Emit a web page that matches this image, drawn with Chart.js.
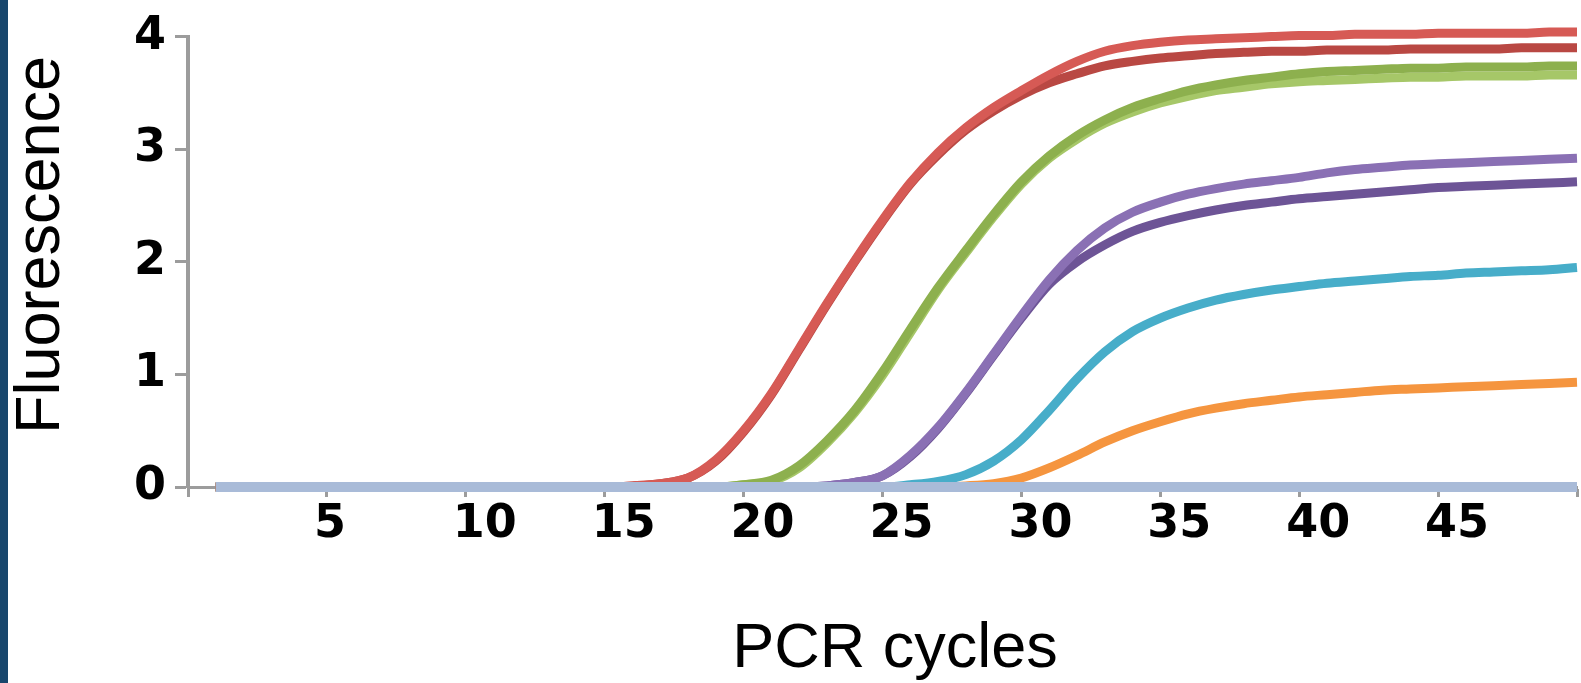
<!DOCTYPE html>
<html>
<head>
<meta charset="utf-8">
<script src="https://cdn.jsdelivr.net/npm/chart.js@4.4.0/dist/chart.umd.min.js"></script>
<style>
html, body { margin: 0; padding: 0; background: #fff; }
</style>
</head>
<body>
<canvas id="pcr" width="1581" height="683"></canvas>
<script>
// PCR cycle numbers
var cycles = [1,2,3,4,5,6,7,8,9,10,11,12,13,14,15,16,17,18,19,20,21,22,23,24,25,
              26,27,28,29,30,31,32,33,34,35,36,37,38,39,40,41,42,43,44,45,46,47,48,49,50];

var xTicks = [5, 10, 15, 20, 25, 30, 35, 40, 45];
var yTicks = [0, 1, 2, 3, 4];

// fluorescence per cycle
var redTop = [0,0,0,0,0,0,0,0,0,0,0,0,0,0,0,0.01,0.03,0.08,0.24,0.50,0.83,1.23,1.63,2.01,2.37,
              2.70,2.97,3.19,3.37,3.52,3.66,3.78,3.87,3.92,3.95,3.97,3.98,3.99,4.00,4.01,4.01,4.02,4.02,4.02,4.03,4.03,4.03,4.03,4.04,4.04];
var redLow = [0,0,0,0,0,0,0,0,0,0,0,0,0,0,0,0.01,0.03,0.08,0.23,0.49,0.82,1.22,1.62,2.00,2.36,
              2.69,2.95,3.17,3.34,3.48,3.59,3.67,3.74,3.78,3.81,3.83,3.85,3.86,3.87,3.87,3.88,3.88,3.88,3.89,3.89,3.89,3.89,3.90,3.90,3.90];
var greenTop = [0,0,0,0,0,0,0,0,0,0,0,0,0,0,0,0,0,0,0,0.02,0.06,0.19,0.41,0.68,1.02,
                1.40,1.77,2.10,2.42,2.71,2.94,3.12,3.26,3.37,3.45,3.52,3.57,3.61,3.64,3.67,3.69,3.70,3.71,3.72,3.72,3.73,3.73,3.73,3.74,3.74];
var greenLow = [0,0,0,0,0,0,0,0,0,0,0,0,0,0,0,0,0,0,0,0.02,0.05,0.17,0.39,0.66,0.99,
                1.37,1.75,2.08,2.40,2.69,2.92,3.09,3.23,3.33,3.41,3.47,3.52,3.55,3.58,3.60,3.61,3.62,3.63,3.64,3.64,3.65,3.65,3.65,3.66,3.66];
var purpleTop = [0,0,0,0,0,0,0,0,0,0,0,0,0,0,0,0,0,0,0,0,0,0,0.01,0.04,0.10,
                 0.28,0.53,0.84,1.18,1.52,1.84,2.10,2.30,2.44,2.53,2.60,2.65,2.69,2.72,2.75,2.79,2.82,2.84,2.86,2.87,2.88,2.89,2.90,2.91,2.92];
var purpleLow = [0,0,0,0,0,0,0,0,0,0,0,0,0,0,0,0,0,0,0,0,0,0,0.01,0.04,0.10,
                 0.27,0.52,0.83,1.17,1.50,1.80,2.00,2.15,2.27,2.35,2.41,2.46,2.50,2.53,2.56,2.58,2.60,2.62,2.64,2.66,2.67,2.68,2.69,2.70,2.71];
var cyan = [0,0,0,0,0,0,0,0,0,0,0,0,0,0,0,0,0,0,0,0,0,0,0,0,0,
            0.02,0.05,0.11,0.23,0.42,0.68,0.96,1.20,1.38,1.50,1.59,1.66,1.71,1.75,1.78,1.81,1.83,1.85,1.87,1.88,1.90,1.91,1.92,1.93,1.95];
var orange = [0,0,0,0,0,0,0,0,0,0,0,0,0,0,0,0,0,0,0,0,0,0,0,0,0,
              0,0,0.01,0.03,0.08,0.17,0.28,0.40,0.50,0.58,0.65,0.70,0.74,0.77,0.80,0.82,0.84,0.86,0.87,0.88,0.89,0.90,0.91,0.92,0.93];
var blank = [0,0,0,0,0,0,0,0,0,0,0,0,0,0,0,0,0,0,0,0,0,0,0,0,0,
             0,0,0,0,0,0,0,0,0,0,0,0,0,0,0,0,0,0,0,0,0,0,0,0,0];

function pts(vals) {
	return cycles.map(function(c, i) { return {x: c, y: vals[i]}; });
}

function line(vals, color, width) {
	return {
		data: pts(vals),
		borderColor: color,
		borderWidth: width,
		pointRadius: 0,
		cubicInterpolationMode: 'monotone',
		clip: false
	};
}

var gray = '#9c9c9c';
var tickFont = {family: 'DejaVu Sans', size: 46, weight: 'bold'};

// left strip + axis titles
var decor = {
	id: 'decor',
	beforeDraw: function(chart) {
		var ctx = chart.ctx;
		ctx.save();
		ctx.fillStyle = '#fff';
		ctx.fillRect(0, 0, chart.width, chart.height);
		ctx.fillStyle = '#18466c';
		ctx.fillRect(0, 0, 8, chart.height);
		ctx.restore();
	},
	afterDraw: function(chart) {
		var ctx = chart.ctx;
		ctx.save();
		ctx.fillStyle = '#000';
		ctx.font = '63px "Liberation Sans"';
		ctx.textAlign = 'center';
		ctx.textBaseline = 'middle';
		ctx.fillText('PCR cycles', 895, 650);
		ctx.translate(42, 245);
		ctx.rotate(-Math.PI / 2);
		ctx.fillText('Fluorescence', 0, 0);
		ctx.restore();
	}
};

new Chart(document.getElementById('pcr').getContext('2d'), {
	type: 'line',
	data: {
		datasets: [
			line(blank, '#a9bbd8', 10),
			line(redTop, '#d65a55', 9),
			line(redLow, '#b94843', 9),
			line(greenTop, '#8db04e', 9),
			line(greenLow, '#a6c768', 9),
			line(purpleTop, '#8a70b4', 9),
			line(purpleLow, '#6d5496', 9),
			line(cyan, '#47adc9', 9),
			line(orange, '#f5953f', 9)
		]
	},
	options: {
		responsive: false,
		animation: false,
		layout: {padding: {top: 36, right: 4, left: 0, bottom: 0}},
		plugins: {legend: {display: false}, tooltip: {enabled: false}},
		scales: {
			x: {
				type: 'linear',
				min: 0,
				max: 50,
				afterFit: function(s) { s.height = 196; },
				afterBuildTicks: function(s) {
					s.ticks = [0].concat(xTicks, [50]).map(function(v) { return {value: v}; });
				},
				ticks: {
					autoSkip: false,
					maxRotation: 0,
					padding: 0,
					align: 'start',
					labelOffset: -13,
					color: '#000',
					font: tickFont,
					callback: function(v) { return xTicks.indexOf(v) >= 0 ? v : ''; }
				},
				grid: {drawOnChartArea: false, drawTicks: true, tickLength: 10, tickWidth: 3, tickColor: gray},
				border: {display: true, color: gray, width: 3}
			},
			y: {
				min: 0,
				max: 4,
				afterFit: function(s) { s.width = 188; },
				afterBuildTicks: function(s) {
					s.ticks = yTicks.map(function(v) { return {value: v}; });
				},
				ticks: {padding: 9, color: '#000', font: tickFont},
				grid: {drawOnChartArea: false, drawTicks: true, tickLength: 13, tickWidth: 3, tickColor: gray},
				border: {display: true, color: gray, width: 4}
			}
		}
	},
	plugins: [decor]
});
</script>
</body>
</html>
